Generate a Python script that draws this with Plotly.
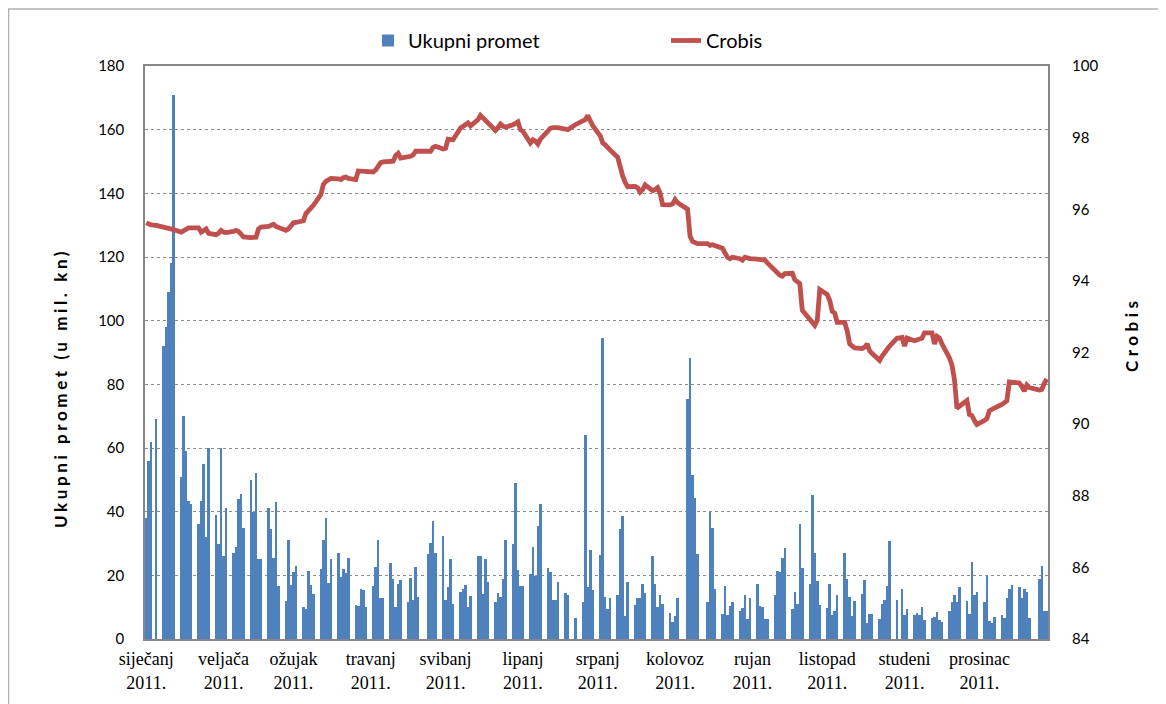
import pandas as pd
import plotly.graph_objects as go

# ---------------- data ----------------
holidays = ["2011-01-06", "2011-04-25", "2011-06-22", "2011-06-23",
            "2011-08-05", "2011-08-15", "2011-11-01", "2011-12-26"]

promet_jan = [38, 56, 62, 69, 92, 98, 109, 118, 171, 51, 70, 59, 43.5, 42.5, 36, 43.5, 55, 32, 60, 39]
promet_feb = [30, 60, 26, 41, 27, 29, 44, 45.5, 35, 50, 40, 52, 25, 25, 41, 34.5, 25.5, 43, 16.5, 12]
promet_mar = [31, 17, 21, 23, 10, 9.5, 21.5, 17, 14, 22, 31, 38, 17.5, 25, 27, 19.5, 22, 20.7, 25.5,
              10.7, 10.4, 15.8, 15.5]
promet_apr = [10, 16.5, 22.7, 31, 12.8, 12.8, 24, 19, 10, 17.3, 18.6, 11.7, 19.3, 12.4, 22.7, 13.1,
              26.8, 30.3, 37.2, 27.1]
promet_may = [32.5, 12.4, 16.2, 25.1, 11, 14.9, 15.8, 17, 10, 13.4, 26.2, 26.2, 14.1, 25.1, 17.9,
              11.7, 14.5, 13.1, 19, 31, 29.8, 49]
promet_jun = [21.7, 16.5, 16.5, 20.4, 29, 19.7, 35.6, 42.4, 22.3, 21, 12.4, 12.4, 17.9, 14.5, 13.8,
              6.6, 11.7, 64, 16.2, 28]
promet_jul = [15.5, 26.5, 94.6, 13.1, 9.3, 12.8, 13.8, 34.5, 38.5, 7.2, 17.9, 10.7, 12.8, 12.8, 17.3,
              14.5, 26.2, 17.3, 10, 13.8, 11]
promet_aug = [8.3, 5.4, 7.2, 12.8, 75.4, 88.3, 51.6, 44.2, 26.8, 11.7, 39.8, 34.9, 15.8, 7.9, 16.5,
              7.5, 10.4, 11.7, 8.9, 9.6, 13.8]
promet_sep = [6.2, 12.8, 17.3, 10.4, 10, 6.2, 6.2, 13.8, 21.5, 21, 25.4, 28.6, 9.3, 14.9, 11, 36, 22.3,
              17.3, 45.2, 27.1, 18.3, 10.7]
promet_oct = [9.6, 17.3, 7.5, 8.9, 13.8, 27.1, 19, 13.1, 7.2, 12, 14.1, 18.6, 5.1, 7.9, 7.9, 6.2, 11,
              12.4, 16.5, 30.7, 12.4]
promet_nov = [15.8, 7.5, 9.3, 7.5, 8.3, 7.5, 10, 5.9, 6.5, 6.9, 8.6, 5.9, 5.4, 8.9, 11.7, 13.8, 11.7,
              16.2, 12, 7.9, 24.1]
promet_dec = [13.8, 14.9, 11.7, 19.7, 5.8, 4.9, 6.9, 7.5, 6.6, 12.8, 15.8, 16.9, 16.2, 12.8, 15.8,
              14.7, 6.6, 19, 23, 8.7, 8.7]

crobis_jan = [95.62, 95.58, 95.56, 95.55, 95.50, 95.50, 95.47, 95.45, 95.43, 95.36, 95.40, 95.46,
              95.48, 95.48, 95.48, 95.36, 95.42, 95.45, 95.33, 95.29]
crobis_feb = [95.33, 95.41, 95.36, 95.35, 95.38, 95.41, 95.38, 95.30, 95.23, 95.21, 95.20, 95.22,
              95.45, 95.50, 95.52, 95.55, 95.58, 95.52, 95.50, 95.41]
crobis_mar = [95.45, 95.55, 95.62, 95.63, 95.68, 95.88, 95.95, 96.02, 96.11, 96.41, 96.69, 96.78,
              96.82, 96.86, 96.85, 96.83, 96.88, 96.90, 96.86, 96.83, 97.07, 97.06, 97.06]
crobis_apr = [97.05, 97.04, 97.10, 97.22, 97.30, 97.32, 97.33, 97.34, 97.50, 97.56, 97.43, 97.46,
              97.48, 97.52, 97.62, 97.62, 97.62, 97.62, 97.73, 97.76]
crobis_may = [97.68, 97.70, 97.96, 97.95, 97.94, 98.27, 98.33, 98.38, 98.41, 98.33, 98.50, 98.62,
              98.55, 98.45, 98.38, 98.20, 98.28, 98.38, 98.32, 98.29, 98.36, 98.40]
crobis_jun = [98.44, 98.22, 98.18, 97.85, 97.94, 97.90, 97.82, 97.96, 98.22, 98.26, 98.28, 98.29,
              98.28, 98.24, 98.22, 98.36, 98.44, 98.50, 98.62, 98.45]
crobis_jul = [98.33, 98.05, 97.85, 97.80, 97.74, 97.65, 97.45, 97.15, 96.93, 96.75, 96.63, 96.64,
              96.60, 96.48, 96.55, 96.68, 96.52, 96.55, 96.60, 96.45, 96.13]
crobis_aug = [96.12, 96.15, 96.27, 96.18, 96.00, 95.25, 95.10, 95.05, 95.04, 95.04, 94.99, 95.01,
              94.98, 94.91, 94.78, 94.66, 94.62, 94.66, 94.62, 94.58, 94.66]
crobis_sep = [94.64, 94.62, 94.61, 94.61, 94.60, 94.58, 94.50, 94.28, 94.20, 94.16, 94.13, 94.20,
              94.21, 94.03, 93.98, 93.92, 93.18, 92.90, 92.80, 92.76, 92.90, 93.76]
crobis_oct = [93.62, 93.45, 93.15, 93.10, 92.84, 92.84, 92.60, 92.24, 92.18, 92.13, 92.11, 92.15,
              92.24, 92.05, 91.97, 91.78, 91.90, 92.00, 92.05, 92.18, 92.40]
crobis_nov = [92.42, 92.18, 92.40, 92.33, 92.35, 92.35, 92.40, 92.55, 92.55, 92.24, 92.45, 92.40,
              92.24, 91.85, 91.65, 91.24, 90.44, 90.50, 90.66, 90.27, 90.24]
crobis_dec = [90.10, 89.99, 90.10, 90.15, 90.37, 90.42, 90.45, 90.55, 90.60, 90.65, 91.18, 91.18,
              91.15, 91.05, 90.92, 91.09, 91.02, 90.95, 90.97, 91.14, 91.26]

month_ticks = ["2011-01-03", "2011-02-03", "2011-03-03", "2011-04-03", "2011-05-03", "2011-06-03",
               "2011-07-03", "2011-08-03", "2011-09-03", "2011-10-03", "2011-11-03", "2011-12-03"]
month_labels = ["siječanj", "veljača", "ožujak", "travanj", "svibanj", "lipanj",
                "srpanj", "kolovoz", "rujan", "listopad", "studeni", "prosinac"]
tick_text = [m + "<br>2011." for m in month_labels]

# ---------------- build ----------------
dates = [d for d in pd.bdate_range("2011-01-03", "2011-12-30")
         if d.strftime("%Y-%m-%d") not in holidays]
promet = (promet_jan + promet_feb + promet_mar + promet_apr + promet_may + promet_jun +
          promet_jul + promet_aug + promet_sep + promet_oct + promet_nov + promet_dec)
crobis = (crobis_jan + crobis_feb + crobis_mar + crobis_apr + crobis_may + crobis_jun +
          crobis_jul + crobis_aug + crobis_sep + crobis_oct + crobis_nov + crobis_dec)
n = min(len(dates), len(promet), len(crobis))
dates, promet, crobis = dates[:n], promet[:n], crobis[:n]

# page body has an 8px margin, so the figure is drawn 8px smaller and offset
OFF = 8
W, H = 1166 - OFF, 704 - OFF
L, R, T, B = 145 - OFF, 1048 - OFF, 66 - OFF, 639 - OFF
PW, PH = R - L, B - T


def px(xs):
    return (xs - OFF - L) / PW


def py(ys):
    return (B - (ys - OFF)) / PH


fig = go.Figure()
fig.add_trace(go.Bar(x=dates, y=promet, name="Ukupni promet",
                     marker=dict(color="#4F81BD", line=dict(width=0)),
                     width=86400000 * 1.0, yaxis="y"))
fig.add_trace(go.Scatter(x=dates, y=crobis, name="Crobis", mode="lines",
                         line=dict(color="#C0504D", width=4.8), yaxis="y2"))

tickfont = dict(family="Lato, Open Sans, sans-serif", size=15, color="#000")
fig.update_layout(
    width=W, height=H,
    margin=dict(l=L, r=W - R, t=T, b=H - B, pad=0),
    paper_bgcolor="white", plot_bgcolor="white",
    bargap=0,
    showlegend=True,
    legend=dict(orientation="h", x=px(368), xanchor="left",
                y=py(21), yanchor="top",
                font=dict(family="Lato, Open Sans, sans-serif", size=20, color="#000"),
                entrywidth=253, entrywidthmode="pixels", traceorder="normal",
                bgcolor="rgba(0,0,0,0)"),
    xaxis=dict(type="date", range=["2011-01-02 12:00", "2011-12-30 12:00"],
               tickvals=month_ticks, ticktext=tick_text,
               tickfont=dict(family="Liberation Serif, Times New Roman, serif", size=18, color="#000"),
               showgrid=False, showline=True, linecolor="#868686", linewidth=1.5,
               mirror=True, ticks="", ticklabelstandoff=3, zeroline=False),
    yaxis=dict(range=[0, 180], dtick=20, tickfont=tickfont,
               showgrid=True, gridcolor="#8c8c8c", griddash="dot", gridwidth=1,
               showline=True, linecolor="#868686", linewidth=1.5, mirror=True,
               ticks="", ticklabelstandoff=16, zeroline=False),
    yaxis2=dict(range=[84, 100], dtick=2, tickfont=tickfont, overlaying="y", side="right",
                showgrid=False, showline=False, ticks="", ticklabelstandoff=23, zeroline=False),
)

title_font = dict(family="Lato, Open Sans, sans-serif", size=17, color="#000")
fig.add_annotation(text='<b><span style="letter-spacing:3.6px">Ukupni promet (u mil. kn)</span></b>',
                   xref="paper", yref="paper", x=px(60), y=py(388),
                   xanchor="center", yanchor="middle", textangle=-90, showarrow=False,
                   font=title_font)
fig.add_annotation(text='<b><span style="letter-spacing:4.5px">Crobis</span></b>',
                   xref="paper", yref="paper", x=px(1131), y=py(334),
                   xanchor="center", yanchor="middle", textangle=-90, showarrow=False,
                   font=title_font)

# chart area border
fig.add_shape(type="rect", xref="paper", yref="paper",
              x0=px(8.5), x1=px(1160), y0=py(720), y1=py(9),
              line=dict(color="#b0b0b0", width=1.5), fillcolor="rgba(0,0,0,0)", layer="below")

fig.write_html("out.html")
